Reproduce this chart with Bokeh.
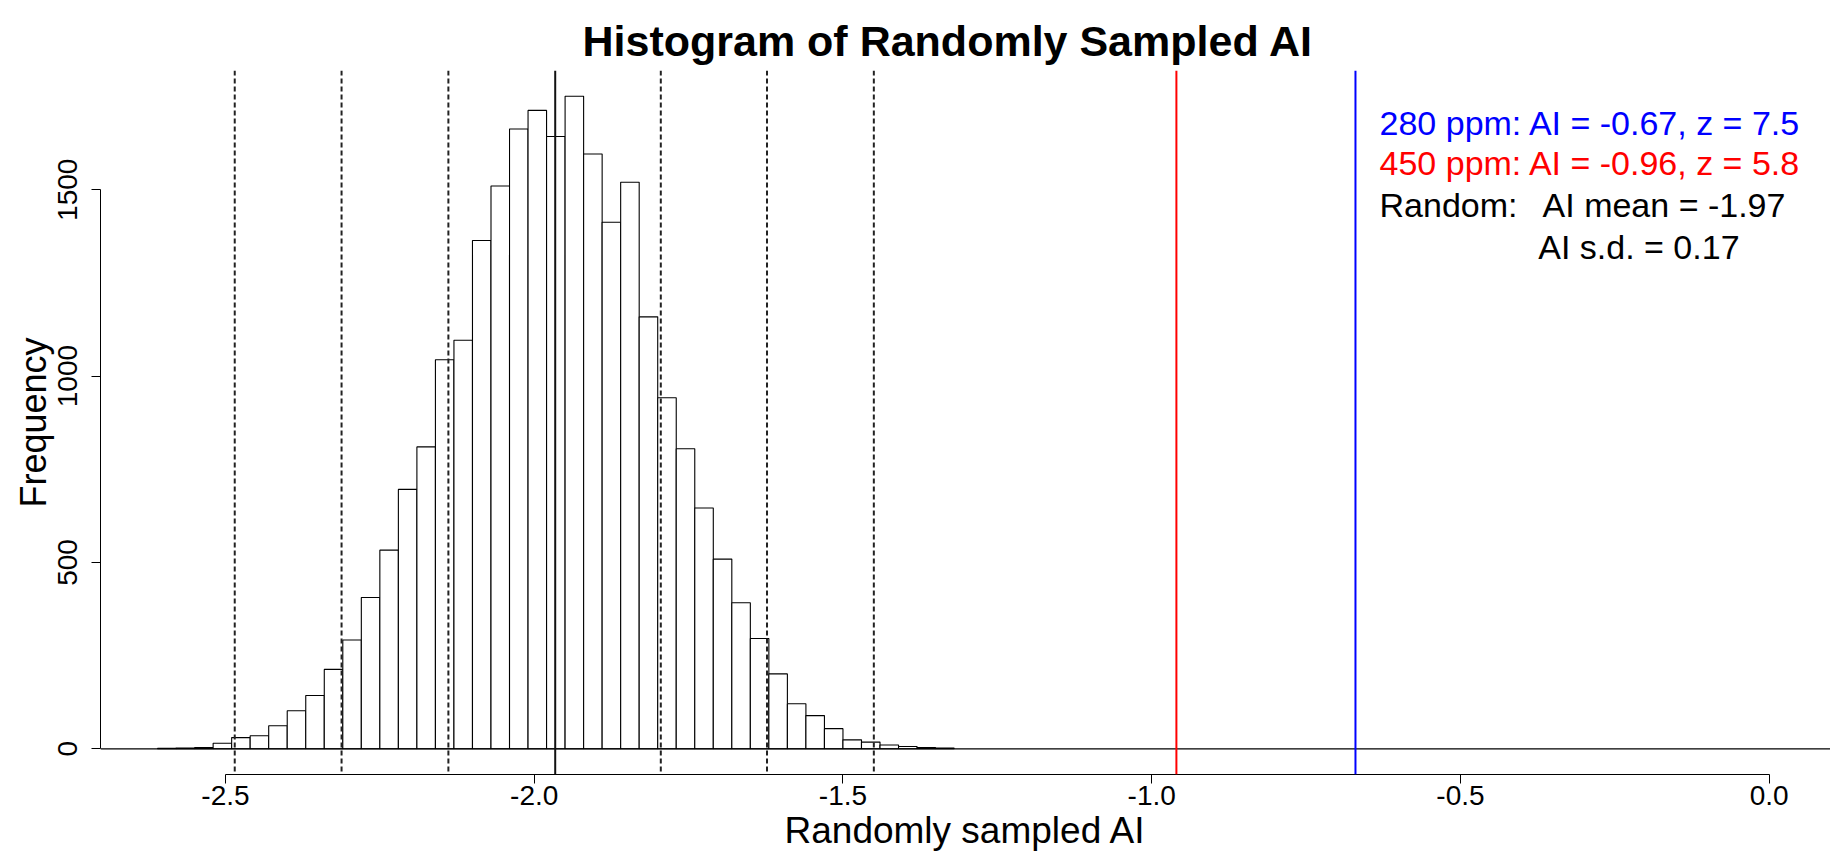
import numpy as np
from bokeh.plotting import figure
from bokeh.models import Span, Label, FixedTicker, NumeralTickFormatter, Range1d
from bokeh.embed import file_html
from bokeh.resources import INLINE

# ---- data ----
bin_start = -2.61
bin_width = 0.03
counts = [1, 2, 3, 15, 30, 35, 62, 102, 143, 213,
          292, 406, 533, 696, 810, 1044, 1096, 1364, 1510, 1663,
          1713, 1643, 1751, 1596, 1413, 1520, 1159, 942, 805, 646,
          509, 392, 296, 201, 121, 89, 54, 24, 18, 10,
          6, 3, 2]
mean_line = -1.966
sd_lines = [-2.485, -2.312, -2.139, -1.795, -1.623, -1.450]
ppm280_ai = -0.67
ppm450_ai = -0.96
x_ticks = [-2.5, -2.0, -1.5, -1.0, -0.5, 0.0]
y_ticks = [0, 500, 1000, 1500]
legend_lines = ["280 ppm: AI = -0.67, z = 7.5",
                "450 ppm: AI = -0.96, z = 5.8",
                "Random:",
                "AI mean = -1.97",
                "AI s.d. = 0.17"]
legend_colors = ["#0000FF", "#FF0000", "black", "black", "black"]
legend_x = [-0.631, -0.631, -0.631, -0.367, -0.374]
legend_y = [1679, 1571, 1460, 1460, 1346]

edges = np.round(bin_start + bin_width * np.arange(len(counts) + 1), 3)
left = edges[:-1]
right = edges[1:]

FONT = "Liberation Sans"

p = figure(width=1830, height=855, output_backend="svg", toolbar_location=None,
           x_range=Range1d(-2.7024, 0.0993), y_range=Range1d(-69.0, 1820.0),
           min_border_left=100, min_border_right=0, min_border_top=70, min_border_bottom=81,
           title="Histogram of Randomly Sampled AI")
p.outline_line_color = None
p.grid.visible = False
p.background_fill_color = "white"
p.border_fill_color = "white"

p.title.align = "left"
p.title.offset = 482
p.title.text_font = FONT
p.title.text_font_size = "43px"
p.title.text_font_style = "bold"
p.title.text_color = "black"
p.title.standoff = 12

p.quad(left=left, right=right, bottom=0, top=counts,
       fill_color="white", line_color="black", line_width=1.1)

p.add_layout(Span(location=0, dimension="width", line_color="black", line_width=1.2))
for v in sd_lines:
    p.add_layout(Span(location=v, dimension="height", line_color="#222222",
                      line_width=2, line_dash="5 3"))
p.add_layout(Span(location=mean_line, dimension="height", line_color="#111111", line_width=2))
p.add_layout(Span(location=ppm450_ai, dimension="height", line_color="#FF0000", line_width=2))
p.add_layout(Span(location=ppm280_ai, dimension="height", line_color="#0000FF", line_width=2))

for txt, col, lx, ly in zip(legend_lines, legend_colors, legend_x, legend_y):
    p.add_layout(Label(x=lx, y=ly, text=txt, text_color=col, text_font=FONT,
                       text_font_size="34px", text_baseline="alphabetic", text_align="left"))

# axes
xa = p.xaxis[0]
xa.ticker = FixedTicker(ticks=x_ticks)
xa.formatter = NumeralTickFormatter(format="0.0")
xa.bounds = (x_ticks[0], x_ticks[-1])
xa.axis_label = "Randomly sampled AI"
ya = p.yaxis[0]
ya.ticker = FixedTicker(ticks=y_ticks)
ya.bounds = (y_ticks[0], y_ticks[-1])
ya.axis_label = "Frequency"
ya.major_label_orientation = "vertical"

for ax in (xa, ya):
    ax.axis_line_color = "black"
    ax.axis_line_width = 1
    ax.major_tick_line_color = "black"
    ax.major_tick_out = 9
    ax.major_tick_in = 0
    ax.minor_tick_line_color = None
    ax.major_label_text_font = FONT
    ax.major_label_text_font_size = "28px"
    ax.major_label_text_color = "black"
    ax.axis_label_text_font = FONT
    ax.axis_label_text_font_size = "36px"
    ax.axis_label_text_font_style = "normal"
    ax.axis_label_text_color = "black"

xa.axis_label_text_font_size = "37px"
xa.major_label_standoff = 2
xa.axis_label_standoff = 2
ya.major_label_standoff = 14
ya.axis_label_standoff = 2

open("out.html", "w").write(file_html(p, INLINE))
